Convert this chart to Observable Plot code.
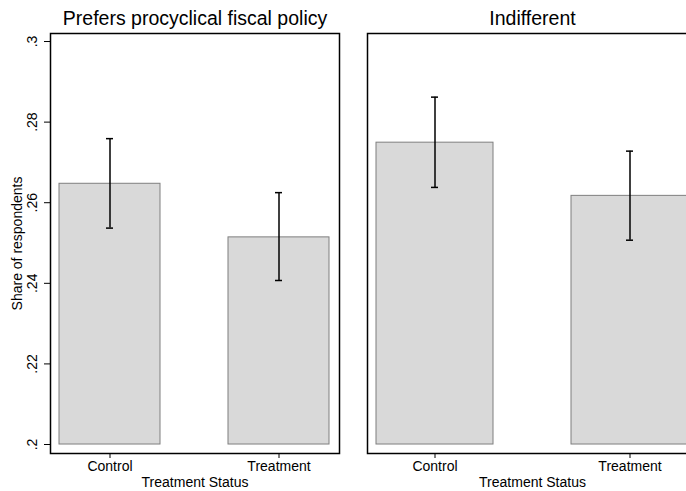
<!DOCTYPE html>
<html>
<head>
<meta charset="utf-8">
<script src="https://cdn.jsdelivr.net/npm/d3@7"></script>
<script src="https://cdn.jsdelivr.net/npm/@observablehq/plot@0.6"></script>
<style>
  html, body { margin: 0; padding: 0; background: #fff; }
  #wrap { position: relative; width: 686px; height: 491px; overflow: hidden; background: #fff; }
  #wrap svg { position: absolute; top: 0; }
</style>
</head>
<body>
<div id="wrap"></div>
<script>
const categories = ["Control", "Treatment"];
const panelTitles = ["Prefers procyclical fiscal policy", "Indifferent"];
const procyclicalMean = [0.2647, 0.2514];
const procyclicalLow = [0.2537, 0.2407];
const procyclicalHigh = [0.2759, 0.2625];
const indifferentMean = [0.2749, 0.2617];
const indifferentLow = [0.2638, 0.2507];
const indifferentHigh = [0.2862, 0.2728];
const yTicks = [0.2, 0.22, 0.24, 0.26, 0.28, 0.3];
const yTickLabels = [".2", ".22", ".24", ".26", ".28", ".3"];
const yTitle = "Share of respondents";
const xTitle = "Treatment Status";
const barBase = 0.2;

function rows(means, lows, highs) {
  return categories.map((c, i) => ({cat: c, mean: means[i], low: lows[i], high: highs[i], base: barBase}));
}

const font = "'Liberation Sans', Arial, Helvetica, sans-serif";

function panel({data, title, width, marginLeft, marginRight, showY, left, paddingOuter, capInset}) {
  const marks = [
    Plot.barY(data, {x: "cat", y1: "base", y2: "mean", fill: "#d9d9d9", stroke: "#7f7f7f", strokeWidth: 1}),
    Plot.ruleX(data, {x: "cat", y1: "low", y2: "high", stroke: "#000", strokeWidth: 1.5}),
    Plot.tickY(data, {x: "cat", y: "low", stroke: "#000", strokeWidth: 1.5, insetLeft: capInset, insetRight: capInset}),
    Plot.tickY(data, {x: "cat", y: "high", stroke: "#000", strokeWidth: 1.5, insetLeft: capInset, insetRight: capInset}),
    Plot.axisX({tickSize: 5, tickPadding: 3, fontSize: 14, label: null, stroke: "#000", color: "#000"}),
    Plot.text([xTitle], {frameAnchor: "bottom", dy: 24, lineAnchor: "top", fontSize: 14, fill: "#000"}),
    Plot.text([title], {frameAnchor: "top", dy: -9, lineAnchor: "bottom", fontSize: 19.5, fill: "#000"}),
    Plot.frame({stroke: "#000", strokeWidth: 1.5})
  ];
  if (showY) {
    marks.push(
      Plot.axisY({ticks: yTicks, tickSize: 6, tickFormat: () => "", label: null, stroke: "#000"}),
      Plot.text(yTicks, {y: d => d, text: (d, i) => yTickLabels[i], frameAnchor: "left", dx: -17.5, rotate: -90, textAnchor: "middle", lineAnchor: "middle", fontSize: 14, fill: "#000"}),
      Plot.text([yTitle], {frameAnchor: "left", dx: -33, rotate: -90, textAnchor: "middle", lineAnchor: "middle", fontSize: 14, fill: "#000"})
    );
  }
  const svg = Plot.plot({
    width, height: 491,
    marginTop: 33, marginBottom: 38, marginLeft, marginRight,
    style: {fontFamily: font, fontSize: "14px", color: "#000", background: "transparent"},
    x: {domain: categories, paddingInner: 0.401, paddingOuter, axis: null},
    y: {domain: [0.19777, 0.30199], axis: null},
    marks
  });
  svg.style.left = left + "px";
  return svg;
}

const wrap = document.getElementById("wrap");
wrap.appendChild(panel({
  data: rows(procyclicalMean, procyclicalLow, procyclicalHigh),
  title: panelTitles[0], width: 345, marginLeft: 50, marginRight: 6, showY: true, left: 0,
  paddingOuter: 0.053, capInset: 47
}));
wrap.appendChild(panel({
  data: rows(indifferentMean, indifferentLow, indifferentHigh),
  title: panelTitles[1], width: 350, marginLeft: 12, marginRight: 8, showY: false, left: 355,
  paddingOuter: 0.046, capInset: 55
}));
</script>
</body>
</html>
